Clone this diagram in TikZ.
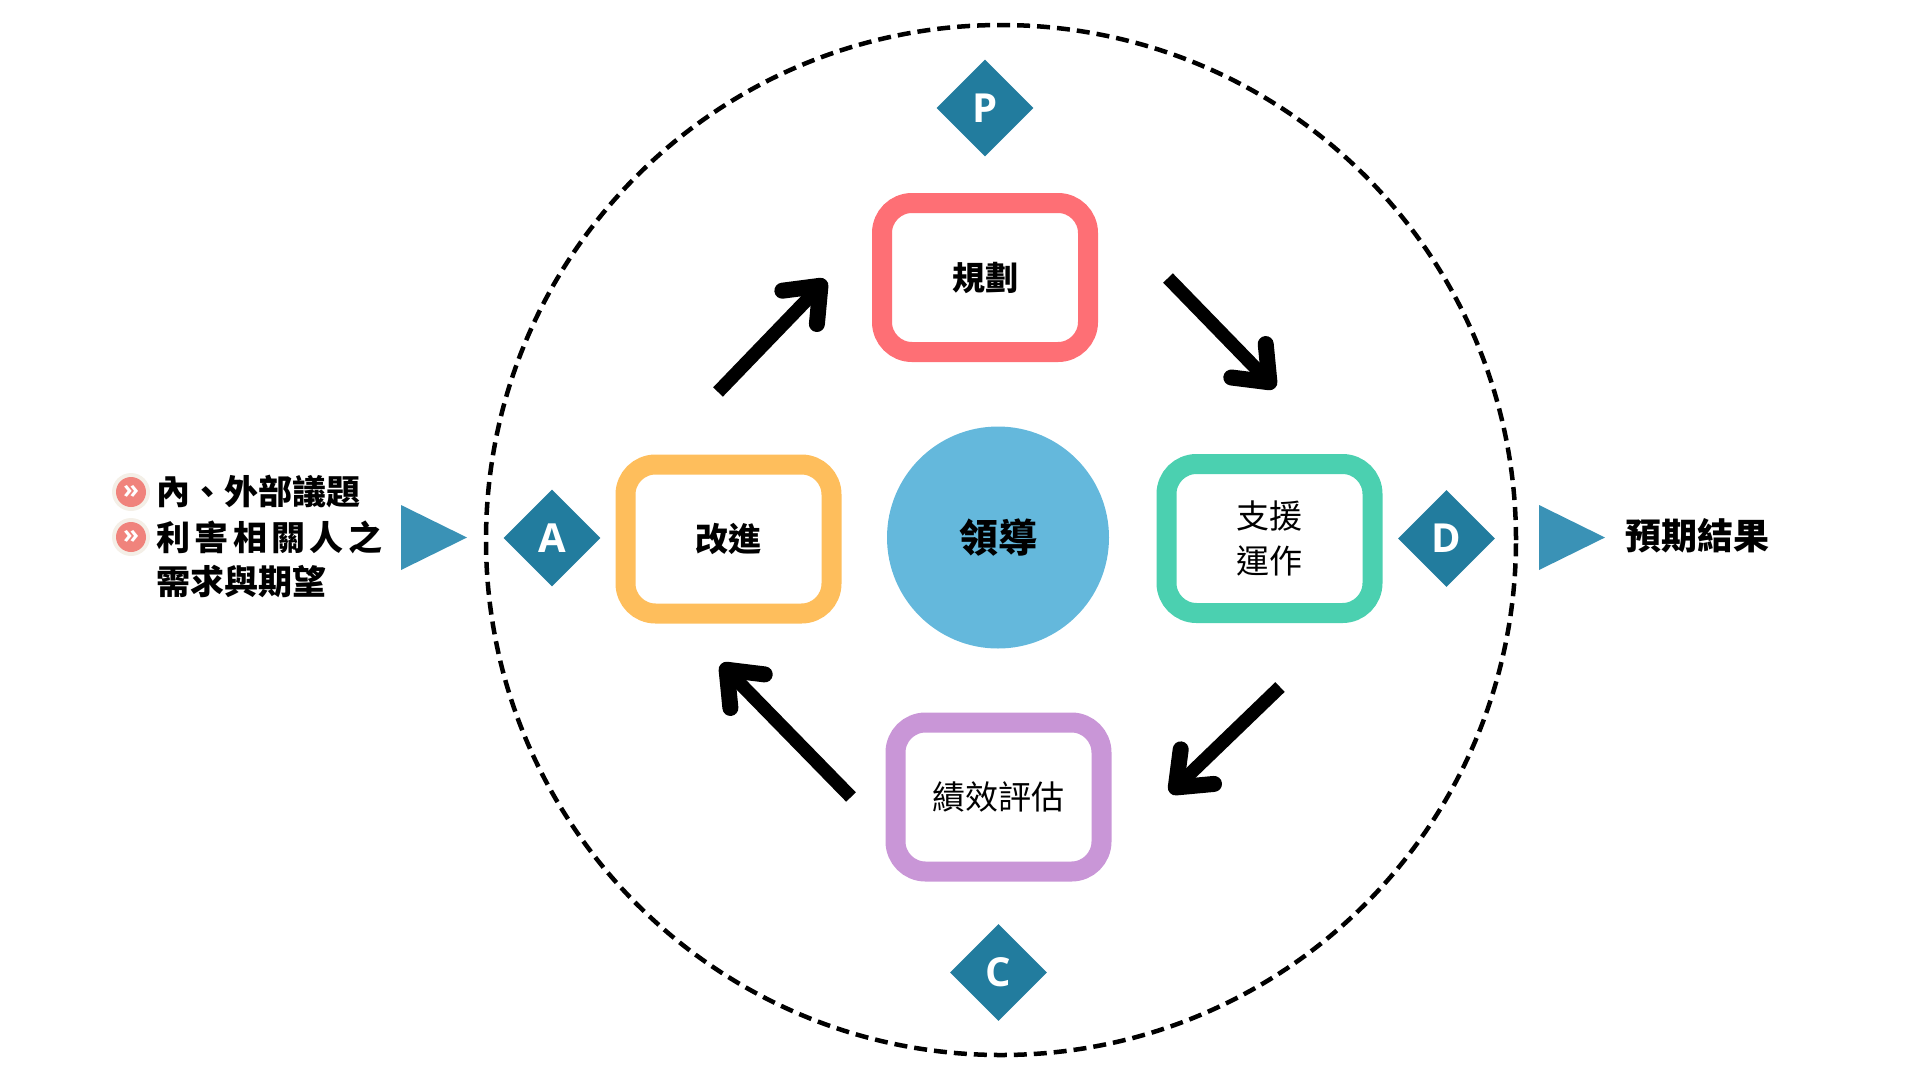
\documentclass[tikz,border=0pt]{standalone}
\usepackage{fontspec}
\setmainfont{Open Sans}
\newfontfamily\cjk{Noto Sans CJK TC}
\newfontfamily\lat{Open Sans}
\usetikzlibrary{shapes.geometric,arrows.meta}
\definecolor{cplan}{HTML}{FE6F75}
\definecolor{cact}{HTML}{FEBE5C}
\definecolor{cdo}{HTML}{4BD0B0}
\definecolor{ccheck}{HTML}{C996D7}
\definecolor{clead}{HTML}{64B8DC}
\definecolor{cdia}{HTML}{227C9E}
\definecolor{ctri}{HTML}{3A92B6}
\definecolor{chalo}{HTML}{F4EFE7}
\definecolor{cbul}{HTML}{F0837C}
\tikzset{
  stagebox/.style={draw=#1, line width=20pt, rounded corners=30pt, minimum width=206pt, minimum height=149pt, fill=white, align=center, inner sep=0pt},
  lettermark/.style={diamond, fill=cdia, minimum width=97pt, minimum height=97pt, inner sep=0pt, text=white, font=\lat\bfseries\fontsize{40}{40}\selectfont},
  cycarrow/.style={line width=13.5pt, -{Straight Barb[length=30pt,width=48pt,line width=16pt,round]}},
  boldtxt/.style={font=\cjk\bfseries\fontsize{33}{45}\selectfont},
  regtxt/.style={font=\cjk\fontsize{33}{45}\selectfont},
  sidetxt/.style={anchor=west, inner sep=0pt, font=\cjk\bfseries\fontsize{34}{45}\selectfont},
  bulhalo/.style={circle, fill=chalo, minimum size=38pt, inner sep=0pt},
  bulmark/.style={circle, fill=cbul, minimum size=30pt, inner sep=0pt, text=white, font=\lat\bfseries\fontsize{26}{26}\selectfont},
  tri/.style={fill=ctri}
}
\begin{document}
\begin{tikzpicture}[x=1pt,y=-1pt]
\useasboundingbox (0,0) rectangle (1920,1080);
% outer dashed ring
\node[circle, draw, line width=4.5pt, dash pattern=on 13pt off 7pt, minimum size=1030pt, inner sep=0pt] (ring) at (1001,540) {};
% stages
\node[stagebox=cplan, boldtxt] (plan) at (985,277.5) {規劃};
\node[stagebox=cact, boldtxt] (act) at (728.5,539) {改進};
\node[stagebox=cdo, regtxt] (do) at (1269.5,538.5) {支援\\運作};
\node[stagebox=ccheck, regtxt] (check) at (998.5,797) {績效評估};
\node[circle, fill=clead, minimum size=222pt, inner sep=0pt, font=\cjk\bfseries\fontsize{39}{45}\selectfont] (lead) at (998,537.5) {領導};
% letters
\node[lettermark] (P) at (985,108) {P};
\node[lettermark] (A) at (552,538) {A};
\node[lettermark] (D) at (1446.5,538.5) {D};
\node[lettermark] (C) at (998.5,972.5) {C};
% cycle arrows
\coordinate (apS) at (718,392);
\coordinate (apE) at (826,280);
\coordinate (pdS) at (1168,278);
\coordinate (pdE) at (1275,388);
\coordinate (dcS) at (1280,687);
\coordinate (dcE) at (1170,793);
\coordinate (caS) at (851,797);
\coordinate (caE) at (721,664);
\draw[cycarrow] (apS) -- (apE);
\draw[cycarrow] (pdS) -- (pdE);
\draw[cycarrow] (dcS) -- (dcE);
\draw[cycarrow] (caS) -- (caE);
% input / output triangles
\fill[tri] (401,505) -- (401,570) -- (467,537.5) -- cycle;
\fill[tri] (1539,505) -- (1539,570) -- (1605,537.5) -- cycle;
% left text
\node[bulhalo] (h1) at (131,492) {};
\node[bulmark] (b1) at (131,492) {»};
\node[bulhalo] (h2) at (131,537) {};
\node[bulmark] (b2) at (131,537) {»};
\node[sidetxt] (l1) at (156,492) {內、外部議題};
\node[sidetxt] (l2) at (156,537) {\addfontfeature{LetterSpace=13}利害相關人之};
\node[sidetxt] (l3) at (156,582) {需求與期望};
% right text
\node[anchor=west, inner sep=0pt, font=\cjk\bfseries\fontsize{36}{45}\selectfont] (out) at (1625,536) {預期結果};
\end{tikzpicture}
\end{document}
